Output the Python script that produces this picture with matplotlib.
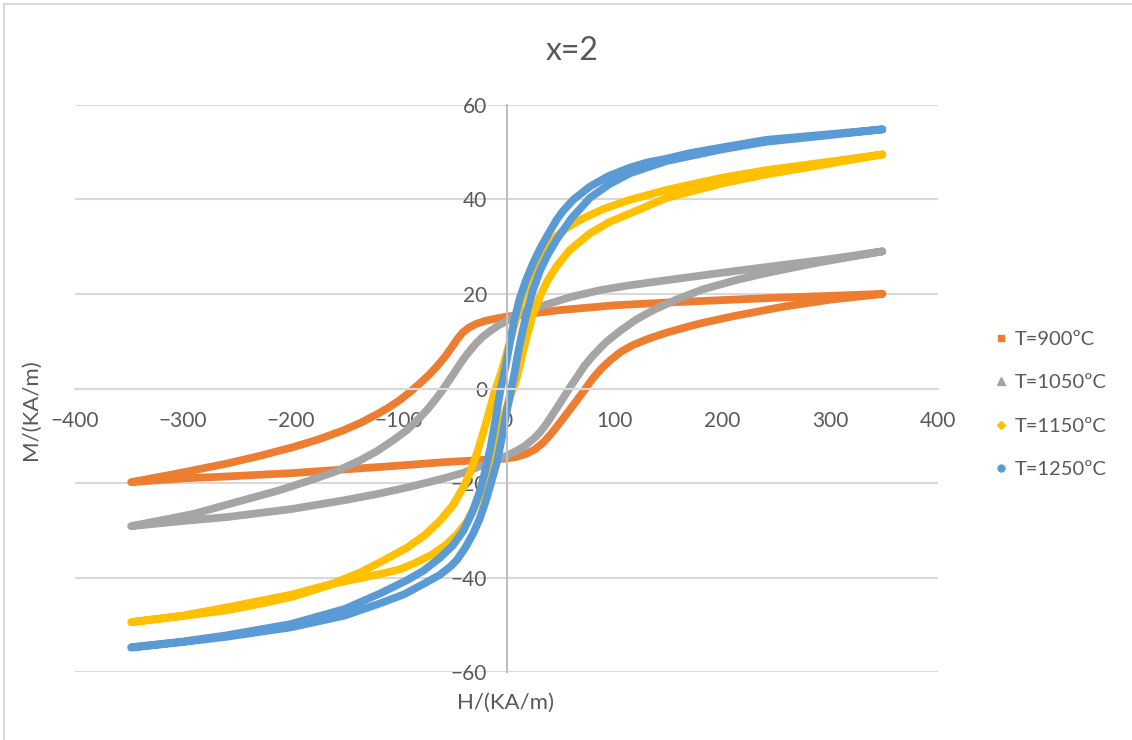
import matplotlib
matplotlib.use("Agg")
import matplotlib.pyplot as plt
from matplotlib.lines import Line2D

plt.rcParams['font.family'] = ['Lato', 'DejaVu Sans']

# --- datos (H en KA/m, M en KA/m) ---
# rama descendente (de +350 a -350) y ascendente (de -350 a +350)
h_900_baja = [348, 300, 250, 200, 150, 100, 50, 20, 0, -10, -20, -28, -35, -41, -46, -51, -57, -65, -72, -80, -90, -100, -110, -120, -135, -151, -175, -198, -230, -260, -306, -348]
m_900_baja = [20.0, 19.6, 19.2, 18.7, 18.2, 17.6, 16.6, 15.8, 15.2, 14.8, 14.3, 13.7, 12.9, 11.8, 10.4, 8.7, 6.8, 4.6, 2.9, 1.2, -0.8, -2.6, -4.1, -5.4, -7.2, -8.8, -10.8, -12.4, -14.3, -15.9, -18.0, -19.8]
h_900_sube = [-348, -300, -260, -200, -150, -100, -60, -30, 0, 10, 18, 26, 34, 41, 49, 57, 65, 72, 80, 88, 96, 106, 117, 132, 148, 165, 180, 210, 256, 300, 348]
m_900_sube = [-19.8, -19.0, -18.6, -17.9, -17.1, -16.3, -15.6, -15.2, -14.8, -14.4, -13.8, -12.9, -11.4, -9.6, -7.3, -4.9, -2.5, -0.3, 2.2, 4.3, 6.0, 7.8, 9.2, 10.6, 11.8, 12.9, 13.8, 15.3, 17.3, 18.8, 20.0]

h_1050_baja = [348, 300, 241, 200, 148, 110, 86.5, 60, 40, 20, 9, 0, -8, -15, -22, -29, -37, -43, -49, -55, -60, -66, -73, -80, -92, -105, -120, -136, -158, -182, -212, -244, -290, -348]
m_1050_baja = [29.0, 27.4, 25.7, 24.5, 22.9, 21.7, 20.8, 19.4, 18.0, 16.6, 15.6, 14.3, 13.3, 12.2, 11.0, 9.4, 7.2, 5.3, 3.2, 1.2, -0.5, -2.3, -4.3, -6.0, -8.7, -10.9, -13.2, -15.2, -17.5, -19.4, -21.6, -23.6, -26.5, -29.1]
h_1050_sube = [-348, -300, -260, -200, -150, -120, -90, -60, -40, -20, 0, 9, 17, 25, 31, 37, 43, 49, 54, 59, 65, 72, 80, 92, 105, 120, 136, 158, 182, 212, 244, 290, 348]
m_1050_sube = [-29.1, -28.0, -27.2, -25.5, -23.6, -22.3, -20.8, -19.1, -17.8, -16.0, -14.2, -13.2, -12.1, -10.6, -9.2, -7.4, -5.3, -3.2, -1.4, 0.4, 2.4, 4.8, 7.0, 9.8, 12.2, 14.6, 16.6, 18.9, 21.0, 22.9, 24.6, 26.7, 29.0]

h_1150_baja = [348, 300, 241, 200, 148, 114, 90, 70, 56, 46, 38, 30, 22, 15, 9, 4, 0, -5, -11, -17, -22, -28, -34, -40, -50, -62, -76, -92, -117, -136, -165, -198, -230, -260, -300, -348]
m_1150_baja = [49.5, 48.0, 46.2, 44.6, 42.0, 39.9, 38.0, 35.9, 34.0, 32.2, 30.0, 27.5, 24.0, 19.5, 15.0, 10.8, 7.5, 3.5, -0.5, -5.5, -9.5, -14.0, -17.8, -20.8, -24.7, -28.0, -31.0, -33.6, -36.7, -38.9, -41.6, -44.0, -45.6, -46.9, -48.1, -49.4]
h_1150_sube = [-348, -300, -260, -200, -167, -140, -117, -100, -86, -70, -56, -46, -37, -29, -22, -16, -11, -6, -2, 3, 8, 11, 14.5, 18.5, 24, 31, 38, 46, 58, 77, 95, 114, 148, 200, 241, 300, 348]
m_1150_sube = [-49.4, -48.0, -46.3, -43.6, -41.6, -40.3, -39.2, -38.3, -37.0, -35.2, -33.0, -30.8, -28.2, -24.8, -21.0, -17.5, -13.5, -9.0, -5.2, -1.8, 1.2, 3.8, 7.2, 10.9, 15.5, 19.6, 22.9, 25.8, 29.2, 32.8, 35.2, 37.0, 40.3, 43.4, 45.3, 47.6, 49.5]

h_1250_baja = [348, 300, 241, 200, 170, 148, 130, 114, 95, 77, 62, 52, 46, 38, 31, 25, 18, 12, 7, 3, -1, -6, -10, -15, -20, -25, -32, -40, -50, -62, -77, -93, -117, -150, -200, -260, -300, -348]
m_1250_baja = [54.8, 53.8, 52.6, 51.0, 49.8, 48.6, 47.8, 46.7, 45.0, 42.7, 40.0, 37.5, 35.6, 32.5, 29.6, 26.8, 23.0, 19.0, 14.5, 9.8, 4.8, -0.5, -6.0, -12.4, -17.5, -21.8, -26.2, -30.0, -33.2, -35.8, -38.5, -40.6, -43.3, -46.6, -49.8, -52.2, -53.5, -54.7]
h_1250_sube = [-348, -300, -260, -200, -150, -117, -95, -77, -62, -52, -46, -38, -31, -25, -19, -14, -9, -5, -1, 3, 7, 10, 14, 18.5, 24, 31, 38, 46, 60, 77, 95, 114, 148, 200, 241, 300, 348]
m_1250_sube = [-54.8, -53.6, -52.5, -50.5, -48.0, -45.4, -43.5, -41.3, -39.4, -37.6, -36.2, -33.5, -30.6, -27.5, -23.5, -19.5, -15.5, -11.0, -6.0, -1.5, 3.0, 7.0, 11.5, 16.0, 20.6, 25.0, 28.3, 31.4, 36.0, 40.3, 43.2, 45.5, 48.1, 50.6, 52.2, 53.6, 54.8]

series = [
    ("T=900ºC", h_900_baja + h_900_sube, m_900_baja + m_900_sube, '#ED7D31', 's', 5),
    ("T=1050ºC", h_1050_baja + h_1050_sube, m_1050_baja + m_1050_sube, '#A5A5A5', '^', 5.5),
    ("T=1150ºC", h_1150_baja + h_1150_sube, m_1150_baja + m_1150_sube, '#FFC000', 'D', 4),
    ("T=1250ºC", h_1250_baja + h_1250_sube, m_1250_baja + m_1250_sube, '#5B9BD5', 'o', 5),
]

gris_texto = '#595959'

fig = plt.figure(figsize=(11.32, 7.40), dpi=100)
ax = fig.add_axes([0.0663, 0.0915, 0.7627, 0.7669])

handles = []
for nombre, h, m, color, marcador, ms in series:
    ax.plot(h, m, color=color, lw=5.6, solid_capstyle='round', solid_joinstyle='round')
    handles.append(Line2D([], [], color=color, marker=marcador, linestyle='None', markersize=ms, label=nombre))

ax.set_xlim(-400, 400)
ax.set_ylim(-60, 60)
ax.set_xticks(range(-400, 401, 100))
ax.set_yticks(range(-60, 61, 20))

# ejes cruzando en el origen
ax.spines['left'].set_position(('data', 0))
ax.spines['bottom'].set_position(('data', 0))
ax.spines['top'].set_visible(False)
ax.spines['right'].set_visible(False)
ax.spines['left'].set_color('#bfbfbf')
ax.spines['bottom'].set_color('#d9d9d9')
ax.spines['left'].set_linewidth(1.5)
ax.spines['bottom'].set_linewidth(1.5)
ax.set_axisbelow(True)
ax.grid(axis='y', color='#d9d9d9', lw=1.5)
ax.tick_params(axis='x', length=0, pad=16, labelsize=15, labelcolor=gris_texto)
ax.tick_params(axis='y', length=0, pad=14, labelsize=15, labelcolor=gris_texto)

ax.set_xlabel('H/(KA/m)', fontsize=16, color=gris_texto)
ax.xaxis.set_label_coords(0.498, -0.037)
ax.set_ylabel('M/(KA/m)', fontsize=16, color=gris_texto)
ax.yaxis.set_label_coords(-0.040, 0.462)

fig.text(0.505, 0.931, 'x=2', ha='center', va='center', fontsize=23, color=gris_texto)

leg = fig.legend(handles=handles, loc='center left', bbox_to_anchor=(0.879, 0.4534),
                 frameon=False, fontsize=14.5, labelcolor=gris_texto, handlelength=0.6,
                 handletextpad=0.4, labelspacing=1.3, borderpad=0, borderaxespad=0)

# marco del grafico (solo se ve a la izquierda y arriba)
fig.add_artist(Line2D([4 / 1132, 4 / 1132], [0, 1 - 4 / 740], transform=fig.transFigure, color='#d9d9d9', lw=1.5))
fig.add_artist(Line2D([4 / 1132, 1], [1 - 4 / 740, 1 - 4 / 740], transform=fig.transFigure, color='#d9d9d9', lw=1.5))

fig.savefig('out.png', dpi=100, facecolor='white')
